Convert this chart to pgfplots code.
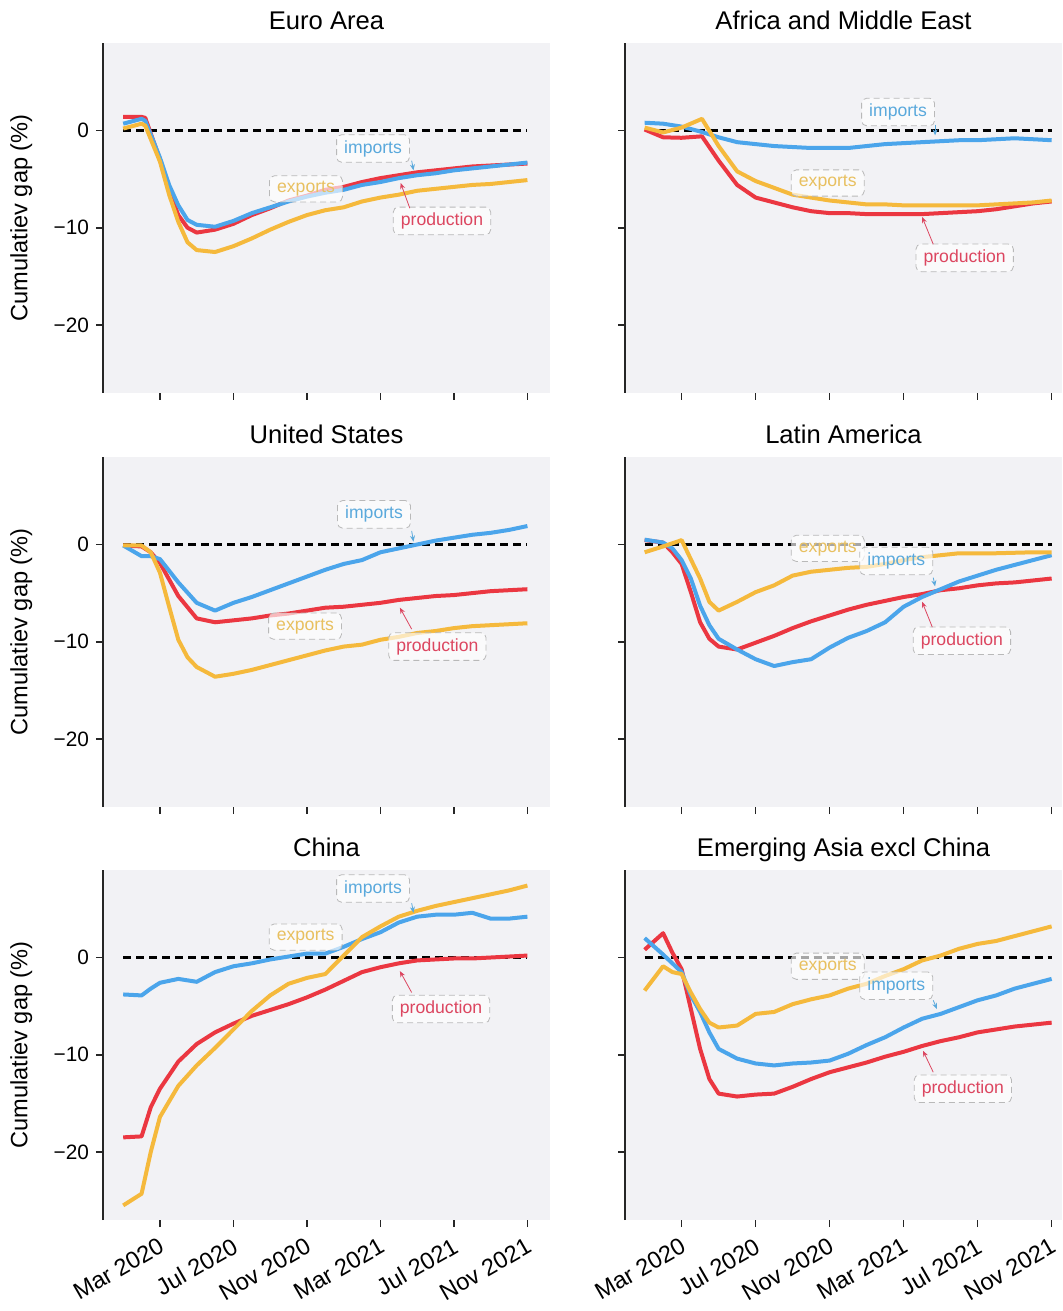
\documentclass[border=0pt]{standalone}
\usepackage{fontspec}
\setmainfont{Liberation Sans}
\usepackage{pgfplots}
\pgfplotsset{compat=1.18}
\usetikzlibrary{arrows.meta}

\definecolor{prodc}{HTML}{EB3741}
\definecolor{impc}{HTML}{4BA5EB}
\definecolor{expc}{HTML}{F5B93C}
\definecolor{prodt}{HTML}{DC4660}
\definecolor{impt}{HTML}{5AA9DC}
\definecolor{expt}{HTML}{E8C060}
\definecolor{panelbg}{HTML}{F2F2F5}

\tikzset{
  lbl/.style={draw=gray!55, densely dashed, rounded corners=2.5pt, fill=white,
    fill opacity=0.65, text opacity=1, font=\fontsize{8.8}{10}\selectfont,
    inner xsep=3.8pt, inner ysep=2.8pt},
  arr/.style={-{Stealth[length=3pt,width=2.5pt]}, line width=0.4pt},
}

\pgfplotsset{
  panel/.style={
    scale only axis, width=223.5pt, height=175pt,
    xmin=-1.10, xmax=23.23, ymin=-27, ymax=9,
    axis x line*=bottom, axis y line*=left,
    x axis line style={draw=none},
    y axis line style={black!85, line width=0.9pt, -},
    axis background/.style={fill=panelbg},
    xtick={2,6,10,14,18,22}, xticklabels={},
    ytick={-20,-10,0}, yticklabels={},
    tick align=outside, major tick length=3.5pt,
    tick style={black!85, line width=0.8pt},
    tick label style={font=\fontsize{10.4}{12}\selectfont},
    title style={font=\fontsize{12.8}{15}\selectfont, anchor=base,
      at={(axis description cs:0.5,1)}, yshift=0.8pt},
    clip=false,
    every axis plot/.append style={line width=2pt, line join=round},
  },
  leftcol/.style={
    yticklabels={−20,−10,0},
    ylabel={Cumulatiev gap (\%)},
    ylabel style={at={(axis description cs:-0.183,0.5)}, anchor=center,
      font=\fontsize{11.8}{14}\selectfont},
  },
  rightcol/.style={xmin=-1.06, xmax=22.56, width=218.5pt},
  bottomrow/.style={
    xticklabels={Mar 2020,Jul 2020,Nov 2020,Mar 2021,Jul 2021,Nov 2021},
    xticklabel style={rotate=30, anchor=north east, font=\fontsize{11.8}{13}\selectfont},
  },
}

\begin{document}
\begin{tikzpicture}
\useasboundingbox (0pt,0pt) rectangle (531pt,-655.5pt);

% ---------------- Euro Area
\begin{axis}[panel, leftcol, at={(51.5pt,-21.5pt)}, anchor=north west, title={Euro Area}]
\addplot[black, line width=1.2pt, dash pattern=on 4pt off 2.5pt] coordinates {(0,0)(22,0)};
\addplot[prodc] coordinates {(0,1.4)(1,1.4)(1.2,1.3)(2,-3.0)(2.5,-6.2)(3,-8.7)(3.5,-10.0)(4,-10.5)(5,-10.2)(6,-9.6)(7,-8.7)(8,-8.0)(9,-7.2)(10,-6.7)(11,-6.1)(12,-5.8)(13,-5.3)(14,-4.9)(15,-4.6)(16,-4.3)(17,-4.1)(18,-3.9)(19,-3.7)(20,-3.6)(21,-3.5)(22,-3.4)};
\addplot[impc] coordinates {(0,0.7)(1,1.2)(1.2,1.0)(2,-2.8)(2.5,-5.6)(3,-7.7)(3.5,-9.2)(4,-9.7)(5,-9.9)(6,-9.3)(7,-8.5)(8,-7.9)(9,-7.3)(10,-6.8)(11,-6.4)(12,-6.1)(13,-5.6)(14,-5.3)(15,-4.9)(16,-4.6)(17,-4.4)(18,-4.1)(19,-3.9)(20,-3.7)(21,-3.5)(22,-3.3)};
\addplot[expc] coordinates {(0,0.2)(1,0.7)(1.2,0.5)(2,-3.2)(2.5,-6.6)(3,-9.4)(3.5,-11.5)(4,-12.3)(5,-12.5)(6,-11.9)(7,-11.1)(8,-10.2)(9,-9.4)(10,-8.7)(11,-8.2)(12,-7.9)(13,-7.3)(14,-6.9)(15,-6.6)(16,-6.2)(17,-6.0)(18,-5.8)(19,-5.6)(20,-5.5)(21,-5.3)(22,-5.1)};
\node[lbl, text=impt] at (axis cs:13.6,-1.85) {imports};
\node[lbl, text=expt] at (axis cs:9.95,-6.0) {exports};
\node[lbl, text=prodt] at (axis cs:17.35,-9.3) {production};
\draw[arr, impt] (axis cs:15.7,-3.1) -- (axis cs:15.8,-4.1);
\draw[arr, prodt] (axis cs:15.6,-8.0) -- (axis cs:15.1,-5.4);
\end{axis}

% ---------------- Africa and Middle East
\begin{axis}[panel, rightcol, at={(312.5pt,-21.5pt)}, anchor=north west, title={Africa and Middle East}]
\addplot[black, line width=1.2pt, dash pattern=on 4pt off 2.5pt] coordinates {(0,0)(22,0)};
\addplot[prodc] coordinates {(0,0.1)(0.5,-0.3)(1,-0.7)(2,-0.75)(3.1,-0.6)(4,-3.1)(5,-5.6)(6,-6.9)(7,-7.4)(8,-7.9)(9,-8.3)(10,-8.5)(11,-8.5)(12,-8.6)(13,-8.6)(14,-8.6)(15,-8.6)(16,-8.5)(17,-8.4)(18,-8.3)(19,-8.1)(20,-7.8)(21,-7.5)(22,-7.3)};
\addplot[impc] coordinates {(0,0.8)(1,0.7)(2,0.4)(3,-0.1)(4,-0.7)(5,-1.2)(6,-1.4)(7,-1.6)(8,-1.7)(9,-1.8)(10,-1.8)(11,-1.8)(12,-1.6)(13,-1.4)(14,-1.3)(15,-1.2)(16,-1.1)(17,-1.0)(18,-1.0)(19,-0.9)(20,-0.8)(21,-0.9)(22,-1.0)};
\addplot[expc] coordinates {(0,0.3)(1,-0.2)(2,0.3)(3.1,1.2)(4,-1.6)(5,-4.2)(6,-5.2)(7,-5.9)(8,-6.6)(9,-6.9)(10,-7.2)(11,-7.4)(12,-7.6)(13,-7.6)(14,-7.7)(15,-7.7)(16,-7.7)(17,-7.7)(18,-7.7)(19,-7.6)(20,-7.5)(21,-7.4)(22,-7.2)};
\node[lbl, text=impt] at (axis cs:13.7,1.9) {imports};
\node[lbl, text=expt] at (axis cs:9.9,-5.4) {exports};
\node[lbl, text=prodt] at (axis cs:17.3,-13.1) {production};
\draw[arr, impt] (axis cs:15.7,0.6) -- (axis cs:15.7,-0.5);
\draw[arr, prodt] (axis cs:15.6,-11.7) -- (axis cs:15.0,-8.9);
\end{axis}

% ---------------- United States
\begin{axis}[panel, leftcol, at={(51.5pt,-228.5pt)}, anchor=north west, title={United States}]
\addplot[black, line width=1.2pt, dash pattern=on 4pt off 2.5pt] coordinates {(0,0)(22,0)};
\addplot[prodc] coordinates {(0,-0.1)(1,-0.2)(1.5,-0.8)(2,-1.9)(3,-5.3)(4,-7.6)(5,-8.0)(6,-7.8)(7,-7.6)(8,-7.3)(9,-7.1)(10,-6.8)(11,-6.5)(12,-6.4)(13,-6.2)(14,-6.0)(15,-5.7)(16,-5.5)(17,-5.3)(18,-5.2)(19,-5.0)(20,-4.8)(21,-4.7)(22,-4.6)};
\addplot[impc] coordinates {(0,-0.1)(1,-1.2)(1.5,-1.2)(2,-1.5)(3,-3.9)(4,-6.0)(5,-6.8)(6,-6.0)(7,-5.4)(8,-4.7)(9,-4.0)(10,-3.3)(11,-2.6)(12,-2.0)(13,-1.6)(14,-0.8)(15,-0.4)(16,0.0)(17,0.4)(18,0.7)(19,1.0)(20,1.2)(21,1.5)(22,1.9)};
\addplot[expc] coordinates {(0,-0.1)(1,-0.1)(1.5,-0.8)(2,-2.9)(2.5,-6.4)(3,-9.8)(3.5,-11.6)(4,-12.6)(5,-13.6)(6,-13.3)(7,-12.9)(8,-12.4)(9,-11.9)(10,-11.4)(11,-10.9)(12,-10.5)(13,-10.3)(14,-9.8)(15,-9.5)(16,-9.1)(17,-8.9)(18,-8.6)(19,-8.4)(20,-8.3)(21,-8.2)(22,-8.1)};
\node[lbl, text=impt] at (axis cs:13.65,3.1) {imports};
\node[lbl, text=expt] at (axis cs:9.9,-8.4) {exports};
\node[lbl, text=prodt] at (axis cs:17.1,-10.5) {production};
\draw[arr, impt] (axis cs:15.7,1.4) -- (axis cs:15.8,0.3);
\draw[arr, prodt] (axis cs:15.7,-8.7) -- (axis cs:15.06,-6.5);
\end{axis}

% ---------------- Latin America
\begin{axis}[panel, rightcol, at={(312.5pt,-228.5pt)}, anchor=north west, title={Latin America}]
\addplot[black, line width=1.2pt, dash pattern=on 4pt off 2.5pt] coordinates {(0,0)(22,0)};
\addplot[prodc] coordinates {(0,0.45)(1,0.2)(1.5,-0.8)(2,-2.0)(2.5,-4.9)(3,-8.0)(3.5,-9.7)(4,-10.5)(5,-10.8)(6,-10.1)(7,-9.4)(8,-8.6)(9,-7.9)(10,-7.3)(11,-6.7)(12,-6.2)(13,-5.8)(14,-5.4)(15,-5.1)(16,-4.7)(17,-4.5)(18,-4.2)(19,-4.0)(20,-3.9)(21,-3.7)(22,-3.5)};
\addplot[impc] coordinates {(0,0.5)(1,0.2)(1.5,-0.4)(2,-1.6)(2.5,-3.5)(3,-6.3)(3.5,-8.3)(4,-9.7)(5,-10.8)(6,-11.8)(7,-12.5)(8,-12.1)(9,-11.8)(10,-10.6)(11,-9.6)(12,-8.9)(13,-8.0)(14,-6.4)(15,-5.4)(16,-4.6)(17,-3.8)(18,-3.2)(19,-2.6)(20,-2.1)(21,-1.6)(22,-1.1)};
\addplot[expc] coordinates {(0,-0.8)(1,-0.2)(2,0.45)(3,-3.5)(3.5,-5.9)(4,-6.8)(5,-5.9)(6,-4.9)(7,-4.2)(8,-3.2)(9,-2.8)(10,-2.6)(11,-2.4)(12,-2.3)(13,-2.0)(14,-1.6)(15,-1.3)(16,-1.1)(17,-0.9)(18,-0.9)(19,-0.9)(20,-0.85)(21,-0.8)(22,-0.8)};
\node[lbl, text=expt] at (axis cs:9.9,-0.4) {exports};
\node[lbl, text=impt] at (axis cs:13.6,-1.7) {imports};
\node[lbl, text=prodt] at (axis cs:17.15,-9.9) {production};
\draw[arr, impt] (axis cs:15.6,-3.4) -- (axis cs:15.7,-4.3);
\draw[arr, prodt] (axis cs:15.55,-8.5) -- (axis cs:15.0,-5.9);
\end{axis}

% ---------------- China
\begin{axis}[panel, leftcol, bottomrow, at={(51.5pt,-435pt)}, anchor=north west, title={China}]
\addplot[black, line width=1.2pt, dash pattern=on 4pt off 2.5pt] coordinates {(0,0)(22,0)};
\addplot[prodc] coordinates {(0,-18.5)(1,-18.4)(1.5,-15.4)(2,-13.5)(3,-10.7)(4,-8.9)(5,-7.7)(6,-6.8)(7,-6.0)(8,-5.4)(9,-4.8)(10,-4.1)(11,-3.3)(12,-2.4)(13,-1.5)(14,-1.0)(15,-0.6)(16,-0.3)(17,-0.2)(18,-0.1)(19,-0.1)(20,0.0)(21,0.1)(22,0.2)};
\addplot[impc] coordinates {(0,-3.8)(1,-3.9)(1.5,-3.2)(2,-2.6)(3,-2.2)(4,-2.5)(5,-1.5)(6,-0.9)(7,-0.6)(8,-0.2)(9,0.1)(10,0.4)(11,0.4)(12,1.1)(13,1.9)(14,2.6)(15,3.6)(16,4.2)(17,4.4)(18,4.4)(19,4.6)(20,4.0)(21,4.0)(22,4.2)};
\addplot[expc] coordinates {(0,-25.5)(1,-24.3)(1.5,-20.0)(2,-16.4)(3,-13.2)(4,-11.1)(5,-9.3)(6,-7.4)(7,-5.5)(8,-3.9)(9,-2.7)(10,-2.1)(11,-1.7)(12,0.2)(13,2.1)(14,3.2)(15,4.2)(16,4.8)(17,5.3)(18,5.7)(19,6.1)(20,6.5)(21,6.9)(22,7.4)};
\node[lbl, text=impt] at (axis cs:13.6,7.1) {imports};
\node[lbl, text=expt] at (axis cs:9.93,2.1) {exports};
\node[lbl, text=prodt] at (axis cs:17.3,-5.3) {production};
\draw[arr, impt] (axis cs:15.7,5.6) -- (axis cs:15.8,4.6);
\draw[arr, prodt] (axis cs:15.7,-3.6) -- (axis cs:15.06,-1.4);
\end{axis}

% ---------------- Emerging Asia excl China
\begin{axis}[panel, rightcol, bottomrow, at={(312.5pt,-435pt)}, anchor=north west, title={Emerging Asia excl China}]
\addplot[black, line width=1.2pt, dash pattern=on 4pt off 2.5pt] coordinates {(0,0)(22,0)};
\addplot[prodc] coordinates {(0,0.8)(1,2.5)(1.5,0.5)(2,-1.2)(2.5,-5.3)(3,-9.4)(3.5,-12.5)(4,-14.0)(5,-14.3)(6,-14.1)(7,-14.0)(8,-13.3)(9,-12.5)(10,-11.8)(11,-11.3)(12,-10.8)(13,-10.2)(14,-9.7)(15,-9.1)(16,-8.6)(17,-8.2)(18,-7.7)(19,-7.4)(20,-7.1)(21,-6.9)(22,-6.7)};
\addplot[impc] coordinates {(0,2.0)(1,0.3)(2,-1.5)(2.5,-3.9)(3,-5.6)(3.5,-7.7)(4,-9.4)(5,-10.4)(6,-10.9)(7,-11.1)(8,-10.9)(9,-10.8)(10,-10.6)(11,-9.9)(12,-9.0)(13,-8.2)(14,-7.2)(15,-6.3)(16,-5.8)(17,-5.1)(18,-4.4)(19,-3.9)(20,-3.2)(21,-2.7)(22,-2.2)};
\addplot[expc] coordinates {(0,-3.4)(1,-0.9)(1.5,-1.5)(2,-1.7)(2.5,-3.6)(3,-5.3)(3.5,-6.7)(4,-7.2)(5,-7.0)(6,-5.8)(7,-5.6)(8,-4.8)(9,-4.3)(10,-3.9)(11,-3.2)(12,-2.7)(13,-1.9)(14,-1.2)(15,-0.3)(16,0.2)(17,0.9)(18,1.4)(19,1.7)(20,2.2)(21,2.7)(22,3.2)};
\node[lbl, text=expt] at (axis cs:9.9,-0.9) {exports};
\node[lbl, text=impt] at (axis cs:13.6,-2.9) {imports};
\node[lbl, text=prodt] at (axis cs:17.2,-13.5) {production};
\draw[arr, impt] (axis cs:15.6,-4.4) -- (axis cs:15.8,-5.3);
\draw[arr, prodt] (axis cs:15.6,-11.8) -- (axis cs:15.05,-9.6);
\end{axis}
\end{tikzpicture}
\end{document}
